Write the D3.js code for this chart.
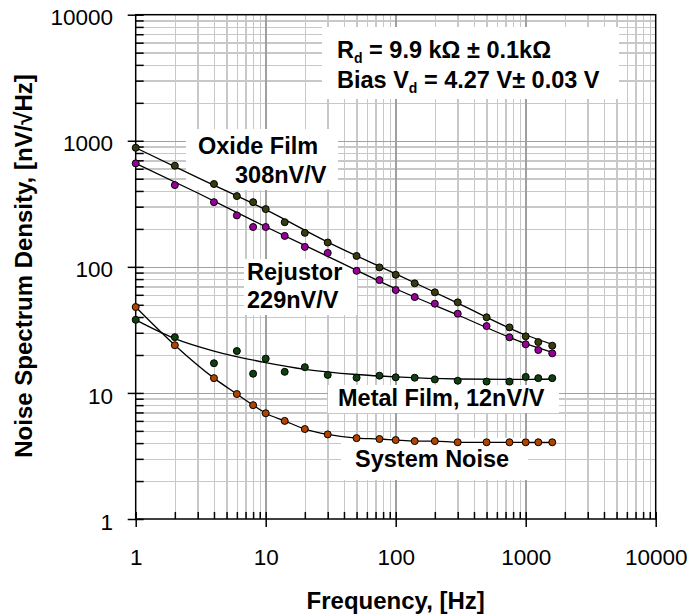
<!DOCTYPE html>
<html>
<head>
<meta charset="utf-8" />
<title>Noise spectrum density</title>
<script src="https://cdn.jsdelivr.net/npm/d3@7"></script>
<style>
	body { margin: 0; background: #fff; }
	svg { display: block; font-family: "Liberation Sans", Arial, Helvetica, sans-serif; }
	.grid line { stroke: #c8c8c8; stroke-width: 1.5; shape-rendering: crispEdges; }
	.grid path { stroke-width: 0; }
	.grid.major line { stroke: #a0a0a0; }
	.axis path { stroke-width: 0; }
	.axis line { stroke: #000; stroke-width: 1.5; }
	.axis text { font-size: 22.5px; fill: #000; }
	.note { font-size: 23.5px; font-weight: bold; }
	.title { font-size: 24px; font-weight: bold; }
</style>
</head>
<body>
<script>
// frecuencias medidas (Hz)
var freq = [1, 2, 4, 6, 8, 10, 14, 20, 30, 50, 75, 100, 140, 200, 300, 500, 750, 1000, 1250, 1600];

// puntos medidos, nV/sqrt(Hz)
var oxide    = [880, 634, 454, 364, 326, 287, 226, 186, 156, 122, 99, 86.5, 74, 62.8, 52.3, 39.8, 33.1, 28.1, 25.3, 23.7];
var rejustor = [662, 445, 326, 256, 207, 207, 176, 144, 129, 93, 78.5, 65.5, 57.6, 51, 42.5, 33.9, 27.6, 24.3, 21.9, 20.6];
var metal    = [38, 27.7, 17.2, 21.5, 14.2, 18.7, 14.7, 16.0, 13.9, 13.2, 13.7, 13.3, 13.2, 12.8, 12.5, 12.3, 12.3, 13.4, 13.1, 13.1];
var sysNoise = [48, 23.9, 13.1, 9.8, 8.0, 6.9, 6.0, 5.17, 4.69, 4.38, 4.31, 4.23, 4.15, 4.15, 4.06, 4.06, 4.06, 4.06, 4.06, 4.06];

// curvas de ajuste
var fitFreq     = [1, 3, 10, 30, 100, 300, 1000, 1600];
var oxideFit    = [880, 510, 284, 157, 88, 51.5, 28.8, 24.3];
var rejustorFit = [662, 385, 208, 121, 67, 41.5, 24.6, 21.0];
var metalFitFreq = [1, 2, 4, 10, 20, 50, 100, 300, 1000, 1600];
var metalFit     = [38, 27, 21.5, 17.4, 15.4, 14.0, 13.4, 12.9, 12.8, 12.9];

var tickValues = [1, 10, 100, 1000, 10000];

var svg = d3.select("body").append("svg")
	.attr("width", 689)
	.attr("height", 616);

var margin = {top: 14.7, left: 135.7},
	width = 520,
	height = 504.3;

var g = svg.append("g").attr("transform", "translate(" + margin.left + "," + margin.top + ")");

var x = d3.scaleLog().domain([1, 10000]).range([0, width]);
var y = d3.scaleLog().domain([1, 10000]).range([height, 0]);

// divisiones menores 2..9 de cada decada
var minor = [];
[1, 10, 100, 1000].forEach(function (d) {
	for (var k = 2; k <= 9; k++) minor.push(d * k);
});
var major = [10, 100, 1000];

// rejilla
g.append("g").attr("class", "grid")
	.attr("transform", "translate(0," + height + ")")
	.call(d3.axisBottom(x).tickValues(minor).tickSize(-height).tickFormat(""));
g.append("g").attr("class", "grid")
	.call(d3.axisLeft(y).tickValues(minor).tickSize(-width).tickFormat(""));
g.append("g").attr("class", "grid major")
	.attr("transform", "translate(0," + height + ")")
	.call(d3.axisBottom(x).tickValues(major).tickSize(-height).tickFormat(""));
g.append("g").attr("class", "grid major")
	.call(d3.axisLeft(y).tickValues(major).tickSize(-width).tickFormat(""));

// cajas blancas de las etiquetas (pixeles de la pagina)
var boxes = [
	[186, 129, 152, 61],
	[244, 259, 113, 56],
	[322, 27, 297, 72],
	[328, 385, 231, 28],
	[341, 438, 187, 42]
];
g.append("g")
	.attr("transform", "translate(" + (-margin.left) + "," + (-margin.top) + ")")
	.selectAll("rect").data(boxes).enter().append("rect")
	.attr("x", function (d) { return d[0]; })
	.attr("y", function (d) { return d[1]; })
	.attr("width", function (d) { return d[2]; })
	.attr("height", function (d) { return d[3]; })
	.attr("fill", "#fff");

// marco
g.append("rect")
	.attr("width", width)
	.attr("height", height)
	.attr("fill", "none")
	.attr("stroke", "#000")
	.attr("stroke-width", 1.5);

// ejes: marcas interiores y marcas mayores cruzadas
g.append("g").attr("class", "axis")
	.attr("transform", "translate(0," + height + ")")
	.call(d3.axisBottom(x).tickValues(minor.concat(tickValues)).tickSize(-7).tickFormat(""));
g.append("g").attr("class", "axis")
	.attr("transform", "translate(0," + height + ")")
	.call(d3.axisBottom(x).tickValues(tickValues).tickSize(8).tickPadding(22)
		.tickFormat(d3.format("d")));
g.append("g").attr("class", "axis")
	.call(d3.axisLeft(y).tickValues(minor.concat(tickValues)).tickSize(-8).tickFormat(""));
g.append("g").attr("class", "axis")
	.call(d3.axisLeft(y).tickValues(tickValues).tickSize(8).tickPadding(14.7)
		.tickFormat(d3.format("d")))
	.selectAll("text").attr("dy", "0.45em");

// lineas
var lineFit = function (fx, fy) {
	return d3.line()
		.x(function (d, i) { return x(fx[i]); })
		.y(function (d) { return y(d); })
		.curve(d3.curveMonotoneX)(fy);
};
[[fitFreq, oxideFit], [fitFreq, rejustorFit], [metalFitFreq, metalFit], [freq, sysNoise]].forEach(function (s) {
	g.append("path")
		.attr("d", lineFit(s[0], s[1]))
		.attr("fill", "none")
		.attr("stroke", "#000")
		.attr("stroke-width", 1.3);
});

// puntos
var series = [
	{values: oxide, color: "#3a3a10"},
	{values: rejustor, color: "#990099"},
	{values: metal, color: "#0f400f"},
	{values: sysNoise, color: "#b04400"}
];
series.forEach(function (s) {
	g.selectAll(null).data(s.values).enter().append("circle")
		.attr("cx", function (d, i) { return x(freq[i]); })
		.attr("cy", function (d) { return y(d); })
		.attr("r", 3.5)
		.attr("fill", s.color)
		.attr("stroke", "#000")
		.attr("stroke-width", 1);
});

// textos
function note(px, py, parts) {
	var t = svg.append("text").attr("class", "note").attr("x", px).attr("y", py);
	parts.forEach(function (p) {
		var ts = t.append("tspan").text(p[0]);
		if (p[1] == "sub") ts.attr("font-size", "14px").attr("dy", 5);
		if (p[1] == "up") ts.attr("dy", -5);
	});
}
note(198, 154, [["Oxide Film"]]);
note(235, 183, [["308nV/V"]]);
note(247, 280, [["Rejustor"]]);
note(247, 308, [["229nV/V"]]);
note(338, 406, [["Metal Film, 12nV/V"]]);
note(355, 467, [["System Noise"]]);
note(337, 58, [["R"], ["d", "sub"], [" = 9.9 k\u03A9 \u00B1 0.1k\u03A9", "up"]]);
note(337, 88, [["Bias V"], ["d", "sub"], [" = 4.27 V\u00B1 0.03 V", "up"]]);

svg.append("text").attr("class", "title")
	.attr("x", margin.left + width / 2).attr("y", 609)
	.attr("text-anchor", "middle")
	.text("Frequency, [Hz]");
svg.append("text").attr("class", "title")
	.attr("transform", "translate(32," + 266 + ") rotate(-90)")
	.attr("text-anchor", "middle")
	.text("Noise Spectrum Density, [nV/\u221AHz]");
</script>
</body>
</html>
